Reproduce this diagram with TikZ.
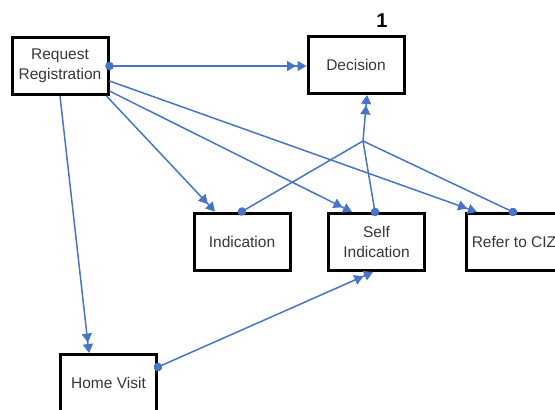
\documentclass[tikz,border=0pt]{standalone}
\usepackage{fontspec}
\setmainfont{Liberation Sans}
\usetikzlibrary{arrows.meta}
\definecolor{flowblue}{RGB}{70,117,200}
\definecolor{labelgray}{RGB}{55,55,55}
\tikzset{
  stepbox/.style={draw=black, line width=3pt, fill=white, minimum width=96pt,
    minimum height=57pt, inner sep=2pt, align=center, text=labelgray,
    font=\fontsize{15.5}{20}\selectfont},
  flow/.style={draw=flowblue, line width=1.5pt,
    -{Triangle[length=9pt,width=10pt,sep=1.5pt]Triangle[length=9pt,width=10pt]}},
  dotted start/.style={{Circle[length=8.5pt]}-, shorten <=-4.25pt},
  dotflow/.style={flow, {Circle[length=8.5pt]}-{Triangle[length=9pt,width=10pt,sep=1.5pt]Triangle[length=9pt,width=10pt]}, shorten <=-4.25pt},
  dotline/.style={draw=flowblue, line width=1.5pt, dotted start},
}
\begin{document}
\begin{tikzpicture}[x=1pt, y=-1pt]
  \useasboundingbox (0,0) rectangle (555,410);
  \clip (0,0) rectangle (555,410);

  % process boxes
  \node[stepbox] (req)  at (60,66)    {Request\\Registration};
  \node[stepbox] (dec)  at (356,65)   {Decision};
  \node[stepbox] (ind)  at (242,241.5) {Indication};
  \node[stepbox] (self) at (376.5,242) {Self\\Indication};
  \node[stepbox] (ciz)  at (514,242)  {Refer to CIZ};
  \node[stepbox] (home) at (108.5,383) {Home Visit};
  \node[font=\fontsize{20}{22}\selectfont\bfseries] (num) at (382,21) {1};

  % meeting point of the three outcomes
  \coordinate (join) at (363,141);

  % connectors leaving the registration
  \draw[dotflow] (req.east) -- (dec.west |- req.east);
  \draw[flow] (req.south) -- ([xshift=-19.5pt]home.north);
  \draw[flow] ([xshift=-3pt]req.south east) -- ([xshift=-27pt]ind.north);
  \draw[flow] ([yshift=-25pt]req.east) -- ([xshift=-24.5pt]self.north);
  \draw[flow] ([yshift=-15pt]req.east) -- ([xshift=-37pt]ciz.north);

  % outcomes feeding back into the decision
  \draw[dotflow] (ind.north) -- (join) -- ([xshift=11pt]dec.south);
  \draw[dotline] ([xshift=-1.5pt]self.north) -- (join);
  \draw[dotline] ([xshift=-1pt]ciz.north) -- (join);

  % home visit towards self indication
  \draw[dotflow] ([yshift=16pt]home.east) -- ([xshift=-3.5pt]self.south);
\end{tikzpicture}
\end{document}
